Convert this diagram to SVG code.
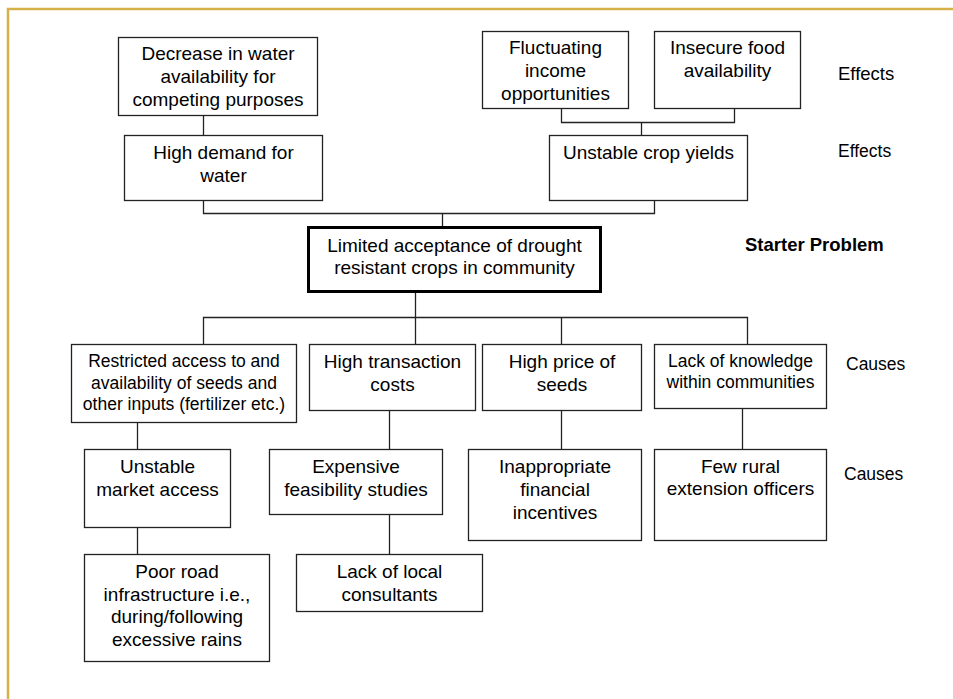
<svg xmlns="http://www.w3.org/2000/svg" width="953" height="699" viewBox="0 0 953 699">
<style>
.box{fill:#fff;stroke:#222;stroke-width:1.3}
.main{fill:#fff;stroke:#000;stroke-width:3}
.c{fill:none;stroke:#222;stroke-width:1.3}
text{font-family:"Liberation Sans",Arial,sans-serif;fill:#000;text-anchor:middle}
.lbl{text-anchor:start}
</style>
<rect width="953" height="699" fill="#fff"/>
<path d="M8,699 V9 H953" fill="none" stroke="#D6B14A" stroke-width="2.5"/>
<g id="connectors">
<path class="c" d="M203.5,116 V135"/>
<path class="c" d="M203.5,200 V213.5 H654.5 V200"/>
<path class="c" d="M442.5,213.5 V227"/>
<path class="c" d="M561.5,109 V122.5 H734.5 V108"/>
<path class="c" d="M641.5,122.5 V135"/>
<path class="c" d="M415.5,292 V344"/>
<path class="c" d="M203.5,344 V317.5 H747.5 V344"/>
<path class="c" d="M561.5,317.5 V344"/>
<path class="c" d="M137.5,423 V449"/>
<path class="c" d="M389.5,410 V449"/>
<path class="c" d="M561.5,410 V449"/>
<path class="c" d="M742.5,408 V449"/>
<path class="c" d="M137.5,528 V554"/>
<path class="c" d="M389.5,515 V554"/>
</g>
<g id="n-decrease"><rect class="box" x="118.5" y="37.5" width="199" height="78"/>
<text font-size="19" x="218" y="60">Decrease in water</text><text font-size="19" x="218" y="83">availability for</text><text font-size="19" x="218" y="106">competing purposes</text></g>
<g id="n-highdemand"><rect class="box" x="124.5" y="135.5" width="198" height="65"/>
<text font-size="19" x="223.5" y="159">High demand for</text><text font-size="19" x="223.5" y="182">water</text></g>
<g id="n-fluct"><rect class="box" x="482.5" y="31.5" width="146" height="77"/>
<text font-size="19" x="555.5" y="54">Fluctuating</text><text font-size="19" x="555.5" y="77">income</text><text font-size="19" x="555.5" y="99.5">opportunities</text></g>
<g id="n-insecure"><rect class="box" x="654.5" y="31.5" width="146" height="77"/>
<text font-size="19" x="727.5" y="54">Insecure food</text><text font-size="19" x="727.5" y="77">availability</text></g>
<g id="n-crop"><rect class="box" x="549.5" y="135.5" width="198" height="65"/>
<text font-size="19" x="648.5" y="158.5">Unstable crop yields</text></g>
<g id="n-main"><rect class="main" x="308.5" y="227.5" width="292" height="64"/>
<text font-size="19" x="454.5" y="251.5">Limited acceptance of drought</text><text font-size="19" x="454.5" y="273.5">resistant crops in community</text></g>
<g id="n-restricted"><rect class="box" x="71.5" y="344.5" width="225" height="78"/>
<text font-size="17.5" x="184" y="367">Restricted access to and</text><text font-size="17.5" x="184" y="389">availability of seeds and</text><text font-size="17.5" x="184" y="410">other inputs (fertilizer etc.)</text></g>
<g id="n-transaction"><rect class="box" x="309.5" y="344.5" width="166" height="66"/>
<text font-size="19" x="392.5" y="368">High transaction</text><text font-size="19" x="392.5" y="390.5">costs</text></g>
<g id="n-price"><rect class="box" x="482.5" y="344.5" width="159" height="66"/>
<text font-size="19" x="562" y="368">High price of</text><text font-size="19" x="562" y="390.5">seeds</text></g>
<g id="n-knowledge"><rect class="box" x="654.5" y="344.5" width="172" height="64"/>
<text font-size="17.5" x="740.5" y="367">Lack of knowledge</text><text font-size="17.5" x="740.5" y="387.5">within communities</text></g>
<g id="n-market"><rect class="box" x="84.5" y="449.5" width="146" height="78"/>
<text font-size="19" x="157.5" y="472.5">Unstable</text><text font-size="19" x="157.5" y="495.5">market access</text></g>
<g id="n-feasibility"><rect class="box" x="269.5" y="449.5" width="173" height="65"/>
<text font-size="19" x="356" y="472.5">Expensive</text><text font-size="19" x="356" y="495.5">feasibility studies</text></g>
<g id="n-incentives"><rect class="box" x="468.5" y="449.5" width="173" height="91"/>
<text font-size="19" x="555" y="472.5">Inappropriate</text><text font-size="19" x="555" y="495.5">financial</text><text font-size="19" x="555" y="518.5">incentives</text></g>
<g id="n-officers"><rect class="box" x="654.5" y="449.5" width="172" height="91"/>
<text font-size="19" x="740.5" y="472.5">Few rural</text><text font-size="19" x="740.5" y="495">extension officers</text></g>
<g id="n-road"><rect class="box" x="84.5" y="554.5" width="185" height="107"/>
<text font-size="19" x="177" y="577.5">Poor road</text><text font-size="19" x="177" y="600.5">infrastructure i.e.,</text><text font-size="19" x="177" y="623">during/following</text><text font-size="19" x="177" y="646">excessive rains</text></g>
<g id="n-consultants"><rect class="box" x="296.5" y="554.5" width="186" height="57"/>
<text font-size="19" x="389.5" y="577.5">Lack of local</text><text font-size="19" x="389.5" y="600.5">consultants</text></g>
<g id="labels">
<text class="lbl" font-size="18.5" x="838" y="80">Effects</text>
<text class="lbl" font-size="17.5" x="838" y="156.5">Effects</text>
<text class="lbl" font-size="18.5" x="745" y="250.5" font-weight="bold">Starter Problem</text>
<text class="lbl" font-size="17.5" x="846" y="370">Causes</text>
<text class="lbl" font-size="17.5" x="844" y="480">Causes</text>
</g>
</svg>
